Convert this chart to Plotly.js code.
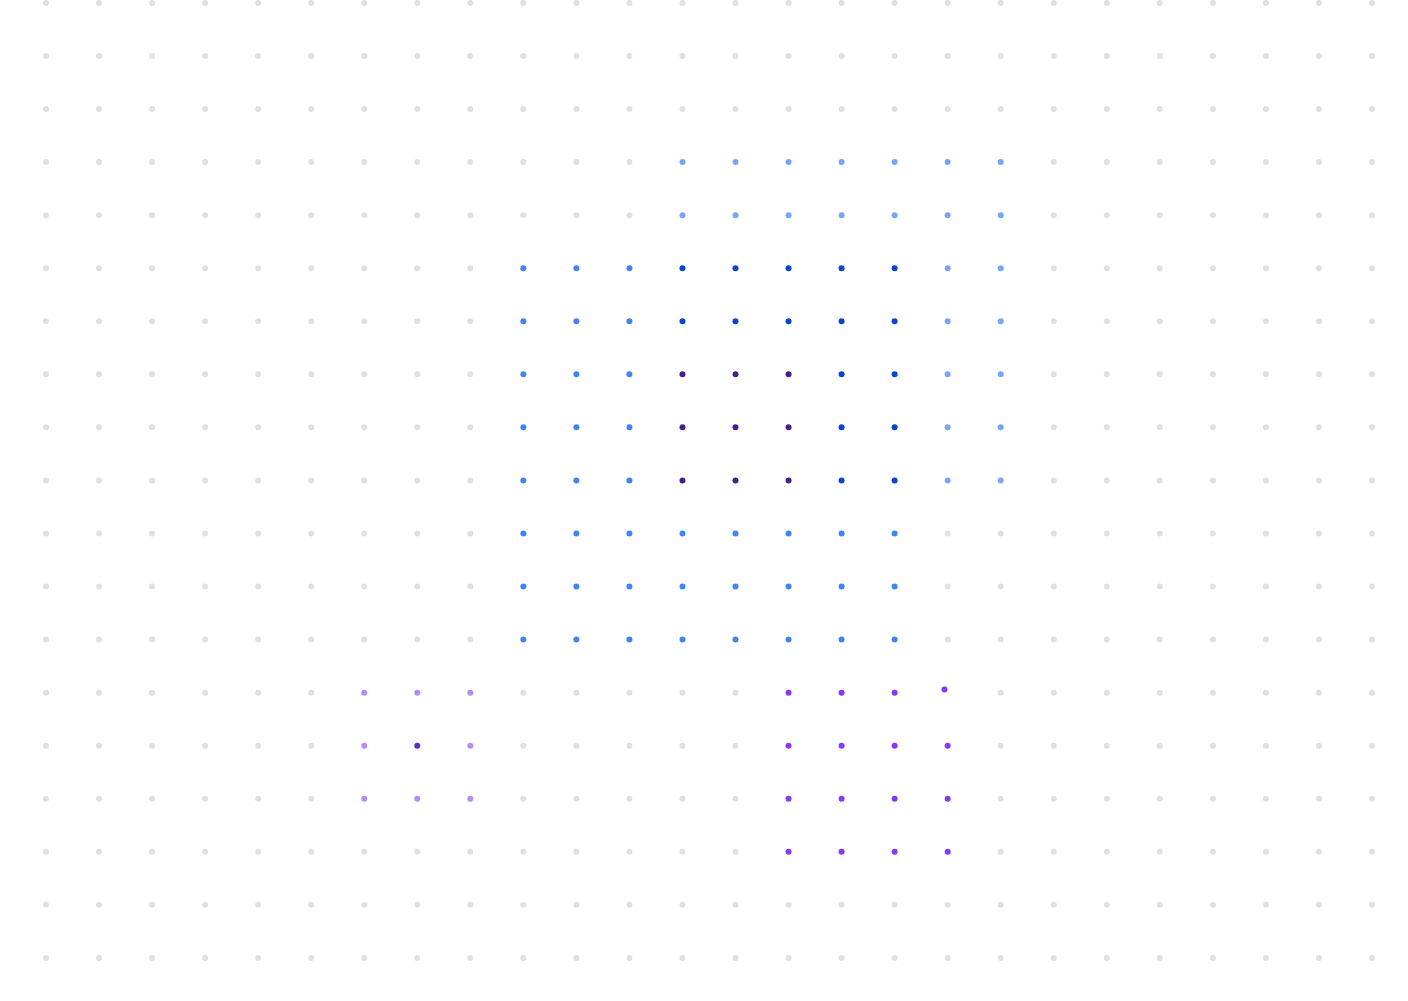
<!DOCTYPE html>
<html>
<head>
<meta charset="utf-8">
<script src="https://cdn.plot.ly/plotly-3.0.1.min.js"></script>
<style>
  html, body { margin: 0; padding: 0; background: #fff; }
  #chartBox { width: 1408px; height: 1001px; }
</style>
</head>
<body>
<div id="chartBox"></div>
<script>
// grid size (columns x rows of dots)
const gridCols = 26;
const gridRows = 19;

// highlighted cells, [column, row], row 0 at the top
const lightBlueCells = [
  [12,3],[13,3],[14,3],[15,3],[16,3],[17,3],[18,3],
  [12,4],[13,4],[14,4],[15,4],[16,4],[17,4],[18,4],
  [17,5],[18,5],[17,6],[18,6],[17,7],[18,7],[17,8],[18,8],[17,9],[18,9]
];
const blueCells = [
  [9,5],[10,5],[11,5],[9,6],[10,6],[11,6],[9,7],[10,7],[11,7],
  [9,8],[10,8],[11,8],[9,9],[10,9],[11,9],
  [9,10],[10,10],[11,10],[12,10],[13,10],[14,10],[15,10],[16,10],
  [9,11],[10,11],[11,11],[12,11],[13,11],[14,11],[15,11],[16,11],
  [9,12],[10,12],[11,12],[12,12],[13,12],[14,12],[15,12],[16,12]
];
const darkBlueCells = [
  [12,5],[13,5],[14,5],[15,5],[16,5],
  [12,6],[13,6],[14,6],[15,6],[16,6],
  [15,7],[16,7],[15,8],[16,8],[15,9],[16,9]
];
const indigoCells = [
  [12,7],[13,7],[14,7],[12,8],[13,8],[14,8],[12,9],[13,9],[14,9]
];
const lavenderCells = [
  [6,13],[7,13],[8,13],[6,14],[8,14],[6,15],[7,15],[8,15]
];
const deepVioletCells = [[7,14]];
const violetCells = [
  [14,13],[15,13],[16,13],[16.94,12.94],
  [14,14],[15,14],[16,14],[17,14],
  [14,15],[15,15],[16,15],[17,15],
  [14,16],[15,16],[16,16],[17,16]
];

const groups = [
  { name: 'light blue', cells: lightBlueCells, color: '#76a6fa' },
  { name: 'blue', cells: blueCells, color: '#3f84f7' },
  { name: 'dark blue', cells: darkBlueCells, color: '#0746cf' },
  { name: 'indigo', cells: indigoCells, color: '#4a1d8f' },
  { name: 'lavender', cells: lavenderCells, color: '#b68bfb' },
  { name: 'deep violet', cells: deepVioletCells, color: '#5a2bd2' },
  { name: 'violet', cells: violetCells, color: '#8838f8' }
];

// everything not highlighted is a grey dot
const taken = new Set();
groups.forEach(g => g.cells.forEach(([c, r]) => taken.add(Math.round(c) + ',' + Math.round(r))));
const greyX = [], greyY = [];
for (let r = 0; r < gridRows; r++) {
  for (let c = 0; c < gridCols; c++) {
    if (!taken.has(c + ',' + r)) { greyX.push(c); greyY.push(r); }
  }
}

const data = [{
  x: greyX, y: greyY, type: 'scatter', mode: 'markers', name: 'empty',
  marker: { size: 6, color: '#e0e0e0', line: { width: 0 } },
  hoverinfo: 'skip'
}];
groups.forEach(g => {
  data.push({
    x: g.cells.map(e => e[0]),
    y: g.cells.map(e => e[1]),
    type: 'scatter', mode: 'markers', name: g.name,
    marker: { size: 6, color: g.color, line: { width: 0 } }
  });
});

const layout = {
  width: 1408, height: 1001,
  margin: { l: 0, r: 0, t: 0, b: 0 },
  paper_bgcolor: '#ffffff', plot_bgcolor: '#ffffff',
  showlegend: false,
  xaxis: { range: [-0.867, 25.679], visible: false, fixedrange: true },
  yaxis: { range: [18.812, -0.055], visible: false, fixedrange: true }
};

Plotly.newPlot('chartBox', data, layout, { displayModeBar: false, staticPlot: true });
</script>
</body>
</html>
